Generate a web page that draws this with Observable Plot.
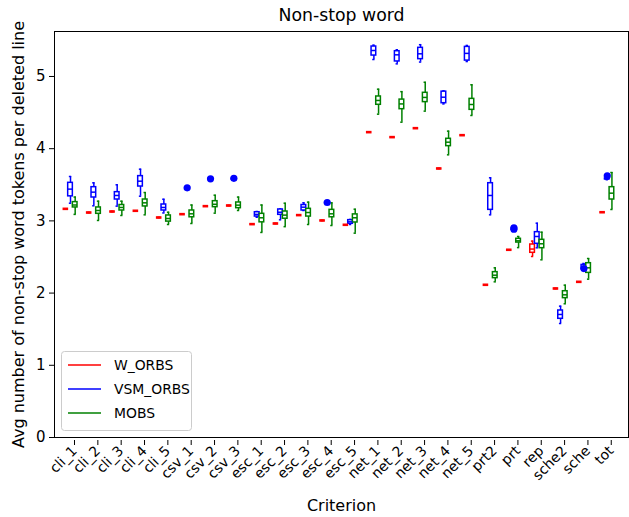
<!DOCTYPE html>
<html>
<head>
<meta charset="utf-8">
<script src="https://cdn.jsdelivr.net/npm/d3@7"></script>
<script src="https://cdn.jsdelivr.net/npm/@observablehq/plot@0.6"></script>
<style>
  body { margin: 0; background: #fff; }
  svg { display: block; }
</style>
</head>
<body>
<div id="chart"></div>
<script>
// Criteria along the x axis
const categories = [
  "cli_1", "cli_2", "cli_3", "cli_4", "cli_5",
  "csv_1", "csv_2", "csv_3",
  "esc_1", "esc_2", "esc_3", "esc_4", "esc_5",
  "net_1", "net_2", "net_3", "net_4", "net_5",
  "prt2", "prt", "rep", "sche2", "sche", "tot"
];

// Box statistics per criterion: [lower whisker, Q1, median, Q3, upper whisker]
const W_ORBS = [
  [3.167, 3.167, 3.167, 3.167, 3.167], [3.116, 3.116, 3.116, 3.116, 3.116],
  [3.13, 3.13, 3.13, 3.13, 3.13], [3.14, 3.14, 3.14, 3.14, 3.14],
  [3.047, 3.047, 3.047, 3.047, 3.047],
  [3.093, 3.093, 3.093, 3.093, 3.093], [3.204, 3.204, 3.204, 3.204, 3.204],
  [3.213, 3.213, 3.213, 3.213, 3.213],
  [2.955, 2.955, 2.955, 2.955, 2.955], [2.964, 2.964, 2.964, 2.964, 2.964],
  [3.08, 3.08, 3.08, 3.08, 3.08], [3.006, 3.006, 3.006, 3.006, 3.006],
  [2.946, 2.946, 2.946, 2.946, 2.946],
  [4.229, 4.229, 4.229, 4.229, 4.229], [4.16, 4.16, 4.16, 4.16, 4.16],
  [4.284, 4.284, 4.284, 4.284, 4.284], [3.726, 3.726, 3.726, 3.726, 3.726],
  [4.187, 4.187, 4.187, 4.187, 4.187],
  [2.115, 2.115, 2.115, 2.115, 2.115], [2.60, 2.60, 2.60, 2.60, 2.60],
  [2.507, 2.558, 2.61, 2.673, 2.72], [2.064, 2.064, 2.064, 2.064, 2.064],
  [2.156, 2.156, 2.156, 2.156, 2.156], [3.12, 3.12, 3.12, 3.12, 3.12]
];

const VSM_ORBS = [
  [3.245, 3.34, 3.44, 3.527, 3.615], [3.209, 3.324, 3.398, 3.467, 3.527],
  [3.204, 3.296, 3.352, 3.398, 3.50], [3.342, 3.476, 3.55, 3.62, 3.716],
  [3.11, 3.144, 3.186, 3.227, 3.30],
  [3.45, 3.45, 3.45, 3.45, 3.45], [3.58, 3.58, 3.58, 3.58, 3.58],
  [3.585, 3.585, 3.585, 3.585, 3.585],
  [3.05, 3.06, 3.09, 3.12, 3.13], [3.015, 3.084, 3.12, 3.158, 3.165],
  [3.144, 3.144, 3.19, 3.22, 3.25], [3.25, 3.25, 3.25, 3.25, 3.25],
  [2.95, 2.96, 2.987, 3.01, 3.02],
  [5.235, 5.29, 5.36, 5.415, 5.434], [5.175, 5.208, 5.30, 5.35, 5.37],
  [5.2, 5.24, 5.314, 5.397, 5.44], [4.62, 4.63, 4.713, 4.79, 4.80],
  [5.207, 5.22, 5.32, 5.41, 5.43],
  [3.084, 3.153, 3.352, 3.522, 3.597], [2.89, 2.89, 2.89, 2.89, 2.89],
  [2.627, 2.683, 2.784, 2.844, 2.968], [1.579, 1.644, 1.704, 1.759, 1.819],
  [2.31, 2.33, 2.36, 2.39, 2.41], [3.57, 3.575, 3.58, 3.585, 3.59]
];

const MOBS = [
  [3.09, 3.186, 3.22, 3.26, 3.33], [3.006, 3.098, 3.144, 3.186, 3.273],
  [3.075, 3.144, 3.186, 3.22, 3.273], [3.084, 3.2, 3.25, 3.296, 3.393],
  [2.95, 2.99, 3.033, 3.075, 3.12],
  [2.964, 3.05, 3.098, 3.144, 3.22], [3.107, 3.19, 3.23, 3.273, 3.356],
  [3.144, 3.176, 3.218, 3.255, 3.33],
  [2.84, 2.98, 3.043, 3.098, 3.22], [2.92, 3.03, 3.08, 3.13, 3.245],
  [2.95, 3.06, 3.116, 3.167, 3.26], [2.936, 3.05, 3.098, 3.153, 3.25],
  [2.83, 2.978, 3.043, 3.09, 3.162],
  [4.478, 4.608, 4.668, 4.723, 4.824], [4.367, 4.547, 4.62, 4.68, 4.79],
  [4.52, 4.645, 4.71, 4.774, 4.92], [3.915, 4.035, 4.09, 4.137, 4.243],
  [4.46, 4.538, 4.612, 4.69, 4.885],
  [2.156, 2.207, 2.248, 2.29, 2.35], [2.63, 2.70, 2.724, 2.752, 2.784],
  [2.461, 2.622, 2.683, 2.738, 2.844], [1.852, 1.93, 1.976, 2.026, 2.11],
  [2.193, 2.28, 2.35, 2.414, 2.479], [3.158, 3.296, 3.384, 3.467, 3.67]
];

// Outlying points: [criterion, value]
const VSM_ORBS_fliers = [
  ["csv_1", 3.458], ["csv_2", 3.583], ["csv_3", 3.59], ["esc_4", 3.255],
  ["prt", 2.905], ["prt", 2.885], ["sche", 2.34], ["tot", 3.625]
];

const seriesNames = ["W_ORBS", "VSM_ORBS", "MOBS"];
const seriesColors = ["red", "blue", "green"];
const yTicks = [0, 1, 2, 3, 4, 5];

const groups = [
  {name: "W_ORBS", offset: -0.2, stats: W_ORBS, fliers: []},
  {name: "VSM_ORBS", offset: 0, stats: VSM_ORBS, fliers: VSM_ORBS_fliers},
  {name: "MOBS", offset: 0.2, stats: MOBS, fliers: []}
];

const boxes = groups.flatMap(g => g.stats.map((s, i) => ({
  series: g.name, pos: i + 1 + g.offset,
  lo: s[0], q1: s[1], med: s[2], q3: s[3], hi: s[4]
})));
const outliers = groups.flatMap(g => g.fliers.map(([c, v]) => ({
  series: g.name, pos: categories.indexOf(c) + 1 + g.offset, value: v
})));

const half = 0.1, cap = 0.05, lw = 1.5;
const flat = boxes.filter(d => d.q1 === d.q3);

const chart = Plot.plot({
  width: 629,
  height: 517,
  marginLeft: 54,
  marginRight: 1,
  marginTop: 31,
  marginBottom: 80,
  style: {fontFamily: "DejaVu Sans", fontSize: "14px", background: "#fff"},
  x: {type: "linear", domain: [0.314, 24.91]},
  y: {domain: [0, 5.623]},
  color: {domain: seriesNames, range: seriesColors},
  marks: [
    Plot.frame({stroke: "black", strokeWidth: 1}),
    // whiskers
    Plot.ruleX(boxes, {x: "pos", y1: "lo", y2: "q1", stroke: "series", strokeWidth: lw}),
    Plot.ruleX(boxes, {x: "pos", y1: "q3", y2: "hi", stroke: "series", strokeWidth: lw}),
    // whisker caps
    Plot.ruleY(boxes, {y: "lo", x1: d => d.pos - cap, x2: d => d.pos + cap, stroke: "series", strokeWidth: lw}),
    Plot.ruleY(boxes, {y: "hi", x1: d => d.pos - cap, x2: d => d.pos + cap, stroke: "series", strokeWidth: lw}),
    // boxes
    Plot.rect(boxes.filter(d => d.q3 > d.q1), {
      x1: d => d.pos - half, x2: d => d.pos + half, y1: "q1", y2: "q3",
      fill: "white", stroke: "series", strokeWidth: lw
    }),
    // medians
    Plot.ruleY(boxes, {y: "med", x1: d => d.pos - half, x2: d => d.pos + half, stroke: "series", strokeWidth: lw}),
    // collapsed boxes appear as a heavier dash
    Plot.ruleY(flat, {y: "med", x1: d => d.pos - half - 0.02, x2: d => d.pos + half + 0.02, stroke: "series", strokeWidth: 2.6}),
    // outliers
    Plot.dot(outliers, {x: "pos", y: "value", fill: "series", r: 3.6}),
    Plot.axisX({
      ticks: d3.range(1, categories.length + 1),
      tickFormat: i => categories[i - 1],
      tickRotate: -45, tickSize: 5, tickPadding: 3, dx: 4, dy: 3, fontSize: 14, label: null
    }),
    Plot.axisY({ticks: yTicks, tickFormat: d => String(d), tickSize: 5, tickPadding: 4, fontSize: 15, label: null}),
    // title and axis labels
    Plot.text(["Non-stop word"], {frameAnchor: "top", dy: -16, fontSize: 17.3, lineAnchor: "middle"}),
    Plot.text(["Criterion"], {frameAnchor: "bottom", dy: 68, fontSize: 16, lineAnchor: "middle"}),
    Plot.text(["Avg number of non-stop word tokens per deleted line"], {
      frameAnchor: "left", textAnchor: "middle", dx: -36, rotate: -90, fontSize: 16, lineAnchor: "middle"
    })
  ]
});

// Legend in the lower-left corner of the axes
const svg = d3.select(chart);
const lg = svg.append("g")
  .attr("font-family", "DejaVu Sans").attr("font-size", "13.9px").attr("text-anchor", "start");
lg.append("rect")
  .attr("x", 61.5).attr("y", 351.5).attr("width", 130).attr("height", 79)
  .attr("rx", 3).attr("fill", "white").attr("fill-opacity", 0.8)
  .attr("stroke", "#cccccc").attr("stroke-width", 1);
seriesNames.forEach((name, i) => {
  const y = 365 + i * 24;
  lg.append("line").attr("x1", 68).attr("x2", 101).attr("y1", y).attr("y2", y)
    .attr("stroke", seriesColors[i]).attr("stroke-width", 1.5);
  lg.append("text").attr("x", 114).attr("y", y).attr("dy", "0.35em")
    .attr("fill", "black").text(name);
});

document.getElementById("chart").appendChild(chart);
</script>
</body>
</html>
